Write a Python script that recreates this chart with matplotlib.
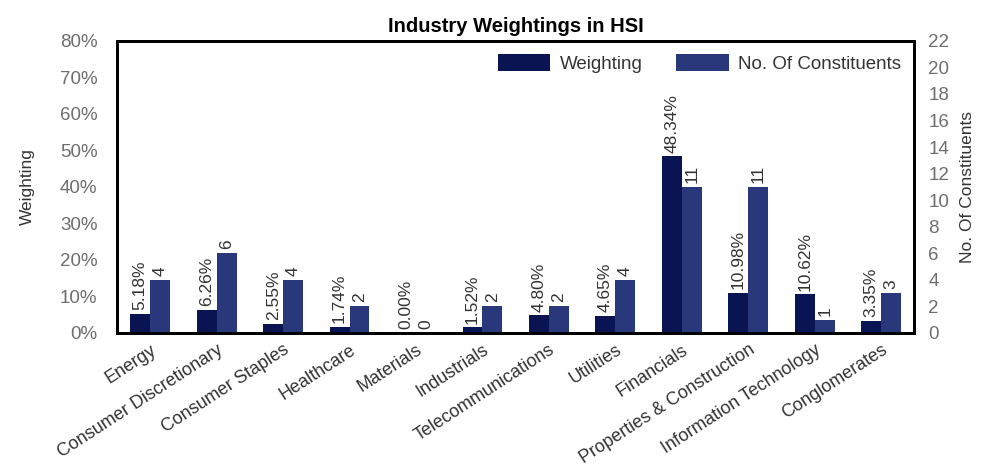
import matplotlib
matplotlib.use("Agg")
from matplotlib import pyplot as plt
from matplotlib.ticker import PercentFormatter
import numpy as np

plt.rcParams['font.family'] = ['Liberation Sans', 'DejaVu Sans']

industries = ['Energy', 'Consumer Discretionary', 'Consumer Staples', 'Healthcare',
              'Materials', 'Industrials', 'Telecommunications', 'Utilities',
              'Financials', 'Properties & Construction', 'Information Technology',
              'Conglomerates']
weighting = [5.18, 6.26, 2.55, 1.74, 0.00, 1.52, 4.80, 4.65, 48.34, 10.98, 10.62, 3.35]
constituents = [4, 6, 4, 2, 0, 2, 2, 4, 11, 11, 1, 3]

dark = '#0b1452'
mid = '#28387a'
gray = '#6e6e6e'
txt = '#333333'

fig = plt.figure(figsize=(9.87, 4.72), dpi=100)
ax = fig.add_axes([0.1185, 0.2945, 0.808, 0.619])
ax2 = ax.twinx()

x = np.arange(len(industries))
w = 0.3
b1 = ax.bar(x - w / 2, weighting, w, color=dark, label='Weighting')
b2 = ax2.bar(x + w / 2, constituents, w, color=mid, label='No. Of Constituents')

ax.set_ylim(0, 80)
ax.set_yticks(range(0, 81, 10))
ax.yaxis.set_major_formatter(PercentFormatter(decimals=0))
ax2.set_ylim(0, 22)
ax2.set_yticks(range(0, 23, 2))
ax.set_xlim(-0.5, len(industries) - 0.5)

# value labels
for xi, v in zip(x, weighting):
    ax.text(xi - w / 2, v + 1, f'{v:.2f}%', rotation=90, ha='center', va='bottom',
            fontsize=12.5, color=txt)
for xi, v in zip(x, constituents):
    ax2.text(xi + w / 2, v + 0.3, str(v), rotation=90, ha='center', va='bottom',
             fontsize=12.5, color=txt)

ax.set_xticks(x)
ax.set_xticklabels(industries, rotation=33, ha='right', rotation_mode='anchor',
                   fontsize=13, color=txt)
ax.tick_params(axis='x', length=0, pad=6)
ax.tick_params(axis='y', length=0, labelsize=13.5, labelcolor=gray, pad=14)
ax2.tick_params(axis='y', length=0, labelsize=13.5, labelcolor=gray, pad=10)

for a in (ax, ax2):
    for s in a.spines.values():
        s.set_linewidth(2)
        s.set_color('black')

ax.set_ylabel('Weighting', fontsize=12.5, color=txt, labelpad=18)
ax2.set_ylabel('No. Of Constituents', fontsize=12.5, color=txt, labelpad=8)
ax.set_title('Industry Weightings in HSI', fontsize=14.5, fontweight='bold', pad=6)

ax2.legend([b1, b2], ['Weighting', 'No. Of Constituents'], loc='upper right',
           ncol=2, frameon=False, fontsize=13.5, handlelength=2.8, handleheight=1.0,
           handletextpad=0.5, columnspacing=1.8, borderaxespad=0.3, labelcolor=txt)

plt.savefig('out.png', dpi=100)
